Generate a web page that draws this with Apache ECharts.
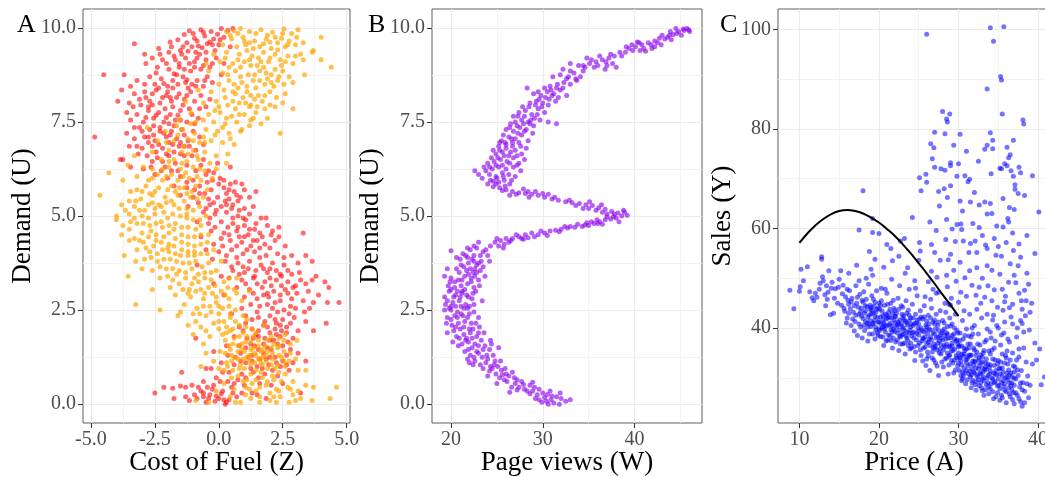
<!DOCTYPE html>
<html><head><meta charset="utf-8">
<script src="https://cdn.jsdelivr.net/npm/echarts@6/dist/echarts.min.js"></script>
<style>html,body{margin:0;padding:0;background:#fff}#c{width:1045px;height:477px}</style>
</head><body><div id="c"></div>
<script>
// Panel A: Cost of Fuel (Z) vs Demand (U), two groups
const fuelRed = [
[-0.7,9.95],[-0.3,9.9],[0.1,9.98],[0.35,9.93],[-1.0,9.85],[-1.35,9.82],[-0.55,9.78],[-0.2,9.7],[0.2,9.75],[-0.85,9.65],[-1.6,9.68],[-1.25,9.6],[-0.45,9.58],[0.0,9.55],[-1.9,9.62],[-2.35,9.45],[-3.3,9.58],[-1.05,9.5],[-0.65,9.47],[-0.15,9.4],[0.45,9.5],[-1.5,9.4],[-0.9,9.35],[-1.15,9.92],[-0.05,9.83],[0.55,9.98],
[-2.6,9.2],[-2.2,9.15],[-1.75,9.25],[-1.3,9.2],[-0.95,9.1],[-0.5,9.15],[-0.1,9.2],[0.2,9.05],[-2.85,9.05],[-2.4,8.95],[-1.95,8.9],[-1.55,8.95],[-1.1,8.85],[-0.7,8.9],[-0.35,8.95],[-3.7,8.75],[-4.5,8.75],[-2.7,8.7],[-2.25,8.65],[-1.8,8.6],[-1.4,8.7],[-0.85,8.6],[-0.45,8.7],[0.1,8.75],[-3.2,8.6],[-2.5,8.5],[-2.0,8.45],[-1.6,8.5],[-1.2,8.4],[-0.6,8.45],[-1.95,9.35],[-1.45,9.3],[-0.75,9.3],[-2.05,8.2],[-0.25,8.55],[-2.9,9.3],
[-3.8,8.35],[-3.3,8.25],[-2.9,8.3],[-2.45,8.35],[-2.0,8.3],[-1.55,8.25],[-1.1,8.3],[-0.7,8.2],[-3.95,8.05],[-3.5,8.0],[-3.05,7.95],[-2.7,8.05],[-2.3,8.0],[-1.85,8.05],[-1.4,7.95],[-0.95,8.05],[-0.5,7.9],[-3.6,7.75],[-3.2,7.7],[-2.75,7.8],[-2.35,7.75],[-1.9,7.7],[-1.5,7.8],[-1.05,7.7],[-3.45,7.55],[-2.95,7.5],[-2.55,7.6],[-2.15,7.5],[-1.7,7.55],[-1.25,7.5],[-0.8,7.6],[-2.6,7.95],[-2.1,7.85],[-1.65,8.15],[-2.85,8.15],[-3.3,7.35],[-4.85,7.1],[-0.35,8.1],[-1.3,8.55],[-2.3,7.25],
[-3.1,7.35],[-2.7,7.3],[-2.3,7.35],[-1.85,7.25],[-1.45,7.3],[-1.0,7.25],[-3.3,7.05],[-2.9,7.1],[-2.5,7.0],[-2.05,7.1],[-1.65,7.05],[-1.2,7.0],[-0.75,7.1],[-3.5,6.85],[-3.0,6.8],[-2.6,6.85],[-2.2,6.8],[-1.8,6.9],[-1.35,6.85],[-0.9,6.75],[-2.8,6.6],[-2.4,6.55],[-1.95,6.6],[-1.5,6.65],[-1.05,6.6],[-3.75,6.5],[-2.2,6.45],[-1.7,6.4],[-0.6,6.5],[-2.65,6.3],[-2.25,6.2],[-1.25,6.35],[-0.4,6.2],
[-2.5,6.1],[-2.0,6.0],[-1.5,6.05],[-1.0,5.95],[-0.5,6.1],[0.05,6.0],[0.45,6.3],[0.65,5.9],[-1.75,5.8],[-1.25,5.75],[-0.75,5.8],[-0.3,5.7],[0.2,5.75],[0.6,5.65],[1.0,5.7],[1.45,5.65],[-1.5,5.55],[-1.0,5.5],[-0.55,5.6],[-0.05,5.5],[0.4,5.45],[0.85,5.5],[-0.25,5.95],[0.3,5.6],[-0.8,5.35],[-0.35,5.3],[0.1,5.25],[0.55,5.3],[1.0,5.2],[-1.2,5.25],
[-0.6,5.1],[-0.15,5.05],[0.3,5.1],[0.75,5.0],[1.2,5.05],[1.65,4.95],[-0.85,4.85],[-0.4,4.8],[0.1,4.85],[0.55,4.8],[1.0,4.75],[1.45,4.8],[1.9,4.75],[2.35,4.7],[-0.3,4.6],[0.2,4.55],[0.7,4.6],[1.15,4.5],[1.6,4.55],[2.05,4.5],[-0.7,4.45],[0.45,4.35],[0.9,4.3],[1.35,4.35],[1.8,4.25],[2.6,4.2],[-0.2,4.25],[3.3,4.55],
[-0.5,4.1],[0.0,4.05],[0.5,4.1],[0.95,4.0],[1.4,4.05],[1.85,3.95],[2.3,4.0],[2.85,3.95],[-0.25,3.85],[0.25,3.8],[0.75,3.75],[1.2,3.8],[1.65,3.7],[2.1,3.75],[2.55,3.7],[3.1,3.75],[0.55,3.55],[1.0,3.5],[1.45,3.55],[1.9,3.5],[2.4,3.45],[3.65,3.8],[3.4,3.95],[-0.85,3.7],[0.1,3.4],
[0.4,3.35],[0.9,3.3],[1.35,3.35],[1.8,3.25],[2.25,3.3],[2.7,3.25],[3.2,3.3],[3.65,3.3],[4.15,3.25],[0.7,3.1],[1.2,3.05],[1.7,3.1],[2.15,3.0],[2.6,3.05],[3.05,2.95],[3.5,3.0],[4.3,3.1],[1.0,2.85],[1.5,2.8],[1.95,2.85],[2.4,2.75],[2.85,2.8],[3.3,2.75],[3.7,2.7],[4.7,2.7],[4.25,2.7],[2.05,3.15],[1.6,2.6],[2.1,2.55],[2.55,2.5],[3.0,2.55],[0.2,2.9],[-0.2,3.2],
[0.5,2.4],[1.05,2.35],[1.55,2.3],[2.0,2.35],[2.5,2.25],[2.95,2.3],[3.4,2.2],[4.2,2.15],[0.8,2.05],[1.3,2.0],[1.75,2.1],[2.2,2.0],[2.65,2.05],[3.1,1.95],[3.7,1.95],[0.6,1.8],[1.1,1.75],[1.55,1.8],[2.0,1.7],[2.4,1.8],[2.9,1.75],[-0.9,1.75],[0.3,1.55],[1.4,1.55],[1.9,1.5],[2.3,1.6],
[-0.2,1.4],[0.35,1.3],[0.85,1.35],[1.3,1.3],[1.75,1.35],[2.2,1.25],[2.65,1.3],[3.1,1.35],[0.1,1.1],[0.6,1.05],[1.05,1.1],[1.5,1.0],[1.95,1.05],[2.4,1.0],[2.9,1.1],[3.4,1.15],[-0.5,0.95],[0.4,0.85],[0.9,0.8],[1.35,0.85],[1.8,0.8],[2.3,0.75],[-1.45,0.85],[-0.1,0.7],
[-2.5,0.3],[-2.15,0.45],[-1.75,0.15],[-1.8,0.42],[-1.3,0.45],[-1.05,0.5],[-0.85,0.15],[-0.7,0.35],[-0.5,0.05],[-0.35,0.25],[-0.2,0.5],[0.0,0.15],[0.15,0.35],[0.3,0.05],[0.25,0.0],[0.5,0.45],[-0.6,0.6],[0.7,0.2],[1.0,0.5],[1.3,0.3],[1.6,0.55],[-0.95,0.25],[-0.45,0.45],[0.05,0.6],[2.05,0.5],[2.5,0.55],[3.2,0.3],[-1.5,0.48],
[-0.6,9.88],[-0.95,9.72],[-0.35,9.62],[0.05,9.68],[-1.4,9.5],[-0.8,9.52],[-1.7,9.15],[-1.15,9.05],[-0.6,9.0],[-2.05,9.05],[-2.45,8.8],[-1.75,8.78],[-1.25,8.62],[-0.95,8.95],[-2.15,8.52],[-2.6,8.25],[-2.2,8.15],[-1.8,8.4],[-1.35,8.1],[-0.9,8.45],[-3.1,8.1],[-2.45,7.68],[-2.05,7.62],[-1.6,7.68],[-1.15,7.85],[-2.85,7.62],[-3.0,7.25],[-2.55,7.15],[-2.15,7.2],[-1.75,7.4],[-1.35,7.15],[-2.75,6.95],[-2.35,6.9],[-1.95,6.95],[-1.55,6.85],[-3.15,6.65],[-2.6,6.45],[-1.85,6.2],[-2.95,6.25],[-1.35,6.6],[-2.05,6.65],
[-0.9,6.2],[-0.2,6.15],[-0.75,5.6],[0.0,5.85],[0.45,5.85],[-0.4,5.45],[0.25,5.4],[0.75,5.4],[-0.1,5.15],[0.5,5.2],[0.95,4.95],[1.4,4.65],[0.35,4.7],[0.8,4.45],[1.25,4.2],[1.7,4.45],[0.1,4.4],[2.2,4.35],[0.3,3.95],[0.7,3.9],[1.15,3.6],[1.6,3.9],[2.0,3.6],[2.7,3.55],[0.8,3.45],[1.5,3.2],[2.45,3.15],[2.9,3.1],[1.9,2.95],[2.4,2.9],[3.4,3.2],[2.8,2.6],[1.25,2.65],[3.9,2.9],[2.2,2.7],
[1.3,2.25],[1.8,2.2],[2.25,2.15],[2.75,2.4],[1.55,1.95],[2.0,1.9],[2.45,1.95],[1.35,1.75],[1.75,1.6],[2.15,1.7],[2.7,1.65],[1.05,1.5],[1.6,1.2],[2.0,1.25],[1.15,1.25],[2.5,1.15],[1.25,0.95],[1.7,0.95],[2.1,0.9],[0.75,0.65],[0.65,1.25],[2.75,0.9],
[-0.4,0.15],[-0.15,0.08],[0.1,0.28],[0.4,0.12],[-0.6,0.3],[-1.15,0.1],[0.6,0.55],[0.9,0.3],[1.5,0.25],[1.85,0.15],[-0.25,0.4],[0.35,0.6],
[-1.85,9.5],[-1.2,9.38],[-0.5,9.35],[-0.25,9.55],[-1.55,9.05],[-0.85,9.2],[-0.25,9.05],[-2.3,9.3],[-1.35,8.9],[-0.55,8.6],[-2.35,8.4],[-1.05,8.5],[-1.65,8.75],[-2.9,8.5],[-3.45,8.45],[-1.9,8.15],[-2.75,7.9],[-1.25,8.2],[-3.35,7.9],[-1.8,7.9],[-0.75,7.85],[-2.55,7.4],[-1.95,7.45],[-1.5,7.55],[-0.95,7.45],[-3.6,7.2],[-2.75,7.1],[-1.9,7.15],[-1.5,6.95],[-0.6,6.9],[-3.2,6.85],[-2.45,6.7],[-1.75,6.7],[-1.15,6.85],[-3.45,6.3],[-2.1,6.3],[-1.6,6.2],[-0.7,6.35],[-3.85,6.5],[-0.05,6.4],[-1.25,5.9],[-0.45,5.9],[0.2,5.95],[-0.95,5.7],[0.4,5.7],[0.9,5.85],[-0.2,5.35],[0.7,5.55],[1.2,5.5],[-0.5,5.2],[0.3,5.3],[0.8,5.15],[1.35,5.25],[-0.35,4.95],[0.55,4.95],[1.05,4.9],[1.85,4.95],[-0.15,4.7],[0.75,4.7],[1.2,4.65],[2.1,4.6],[0.4,4.5],[1.0,4.45],[1.5,4.35],[2.35,4.45],[0.15,4.2],[0.7,4.2],[1.1,4.1],[1.6,4.15],[2.0,4.15],[2.55,3.9],[0.5,3.65],[0.95,3.65],[1.4,3.4],[1.75,3.6],[2.25,3.55],[2.85,3.45],[3.15,3.5],[1.05,3.2],[2.0,3.35],[2.45,3.4],[3.0,3.15],[3.8,3.4],[1.35,2.95],[1.75,2.9],[2.7,2.95],[3.55,2.55],[2.3,2.45],[1.9,2.65],[3.35,2.45],[0.9,2.55],
[1.5,2.45],[2.2,2.25],[2.8,2.15],[1.05,2.15],[1.9,2.05],[2.4,2.1],[0.95,1.95],[1.45,1.85],[2.25,1.85],[2.65,1.9],[1.8,1.75],[1.25,1.6],[2.5,1.55],[1.55,1.45],[2.05,1.45],[2.8,1.45],[0.8,1.55],[1.3,1.15],[1.85,1.2],[2.25,1.1],[0.85,1.15],[2.65,1.05],[1.05,0.7],[1.55,0.7],[0.15,0.85],[-0.3,0.95],[-0.6,0.2],[-0.1,0.22],[0.2,0.12],[0.55,0.3],[-0.8,0.45],[-1.3,0.2]
];
const fuelOrange = [
[0.3,9.9],[0.75,9.85],[1.2,9.9],[1.65,9.95],[2.1,9.88],[2.55,9.97],[3.1,9.95],[0.5,9.7],[0.95,9.75],[1.4,9.65],[1.85,9.7],[2.3,9.6],[2.75,9.65],[3.3,9.6],[0.15,9.55],[1.05,9.55],[1.6,9.5],[2.05,9.45],[2.6,9.5],[3.0,9.55],[4.0,9.75],[3.7,9.4],[2.5,9.85],[0.85,9.98],
[-0.2,9.3],[0.3,9.35],[0.8,9.3],[1.3,9.25],[1.75,9.35],[2.2,9.3],[2.7,9.25],[3.2,9.3],[3.65,9.35],[0.05,9.1],[0.55,9.05],[1.0,9.1],[1.5,9.0],[1.95,9.1],[2.45,9.0],[2.9,9.05],[3.3,9.15],[4.0,9.15],[-0.4,8.85],[0.15,8.8],[0.65,8.85],[1.15,8.75],[1.6,8.85],[2.05,8.75],[2.5,8.85],[3.35,8.75],[4.4,8.95],[0.4,8.6],[0.9,8.55],[1.35,8.6],[1.8,8.5],[2.3,8.6],[0.0,8.5],[1.1,9.4],[2.9,8.55],[-0.5,9.05],
[-0.8,8.35],[-0.3,8.3],[0.2,8.35],[0.65,8.25],[1.1,8.3],[1.55,8.2],[2.0,8.3],[2.6,8.25],[-1.3,8.05],[-0.6,8.0],[-0.1,8.05],[0.35,7.95],[0.8,8.0],[1.25,7.95],[1.7,8.05],[2.2,7.9],[2.9,7.85],[-1.1,7.75],[-0.4,7.7],[0.05,7.75],[0.5,7.65],[1.0,7.7],[1.45,7.75],[1.9,7.6],[-0.9,7.5],[0.25,7.45],[0.7,7.5],[1.2,7.4],[1.65,7.45],[2.4,7.2],[-1.55,7.55],[1.4,8.1],
[-2.8,7.35],[-2.1,7.25],[-1.4,7.3],[-0.95,7.2],[-0.5,7.3],[-0.05,7.25],[0.4,7.2],[0.9,7.3],[-2.4,7.0],[-1.75,7.0],[-1.2,7.05],[-0.75,6.95],[-0.3,7.0],[0.15,6.95],[0.6,6.9],[-2.6,6.7],[-1.95,6.75],[-1.45,6.7],[-1.0,6.75],[-0.55,6.7],[-0.1,6.6],[0.35,6.65],[-3.3,6.6],[-2.25,6.5],[-1.25,6.45],[-0.8,6.5],[-0.35,6.4],[0.3,6.4],
[-3.55,6.35],[-2.95,6.3],[-1.95,6.3],[-1.5,6.25],[-1.0,6.3],[-0.55,6.2],[-0.1,6.25],[-4.3,6.15],[-3.2,6.05],[-2.6,6.0],[-2.05,6.05],[-1.6,5.95],[-1.15,6.0],[-0.7,5.95],[-0.25,6.0],[-3.75,5.95],[-2.85,5.8],[-2.35,5.75],[-1.85,5.8],[-1.35,5.75],[-0.9,5.8],[-0.45,5.7],[-3.45,5.65],[-2.6,5.55],[-2.1,5.5],[-1.6,5.55],[-1.1,5.5],[-4.65,5.55],[-3.05,5.45],[-0.6,5.5],
[-3.8,5.3],[-3.3,5.25],[-2.75,5.3],[-2.25,5.25],[-1.75,5.3],[-1.25,5.2],[-0.75,5.25],[-4.0,5.0],[-3.5,5.05],[-3.0,5.0],[-2.5,5.05],[-2.0,4.95],[-1.5,5.0],[-1.0,4.9],[-0.5,5.0],[-3.75,4.75],[-3.2,4.8],[-2.7,4.75],[-2.2,4.7],[-1.7,4.8],[-1.2,4.7],[-0.7,4.75],[-4.0,4.9],[-3.8,4.5],[-3.0,4.55],[-2.45,4.5],[-1.95,4.55],[-1.45,4.5],[-0.95,4.45],[-0.4,4.5],[-3.5,5.4],[-2.15,5.1],
[-3.5,4.35],[-2.95,4.3],[-2.45,4.35],[-1.95,4.25],[-1.45,4.3],[-0.95,4.2],[-0.45,4.3],[-3.2,4.1],[-2.7,4.05],[-2.2,4.1],[-1.7,4.0],[-1.2,4.05],[-0.7,4.0],[-0.2,4.1],[-3.7,3.95],[-2.9,3.85],[-2.4,3.8],[-1.9,3.85],[-1.4,3.75],[-0.9,3.8],[-0.4,3.75],[0.1,3.8],[-3.0,3.6],[-2.05,3.6],[-1.55,3.55],[-1.05,3.6],[-0.55,3.5],[-2.6,3.55],[-3.55,3.4],
[-2.3,3.35],[-1.8,3.3],[-1.3,3.35],[-0.8,3.25],[-0.3,3.3],[0.2,3.25],[0.7,3.35],[-2.6,3.05],[-1.9,3.1],[-1.4,3.05],[-0.9,3.0],[-0.4,3.1],[0.1,3.0],[0.6,3.05],[-1.7,2.9],[-1.1,2.85],[-0.6,2.8],[-0.1,2.85],[0.4,2.8],[0.9,2.75],[-3.25,2.65],[-1.35,2.65],[-0.35,2.6],[0.15,2.55],[0.65,2.5],[-0.85,2.55],[-2.3,2.5],[1.2,3.0],
[-1.6,2.35],[-1.0,2.4],[-0.5,2.35],[0.0,2.4],[0.45,2.3],[0.95,2.35],[-1.2,2.1],[-0.7,2.05],[-0.2,2.15],[0.3,2.05],[0.8,2.1],[1.3,2.0],[1.8,2.1],[-1.0,1.85],[-0.35,1.8],[0.15,1.85],[0.6,1.75],[1.1,1.8],[1.55,1.7],[2.05,1.8],[2.6,1.85],[-0.6,1.6],[0.4,1.55],[0.9,1.6],[1.35,1.5],[1.8,1.55],[2.3,1.5],[2.8,1.6],[3.05,1.7],
[-0.5,1.35],[0.05,1.4],[0.5,1.3],[1.0,1.4],[1.45,1.3],[1.9,1.4],[2.35,1.3],[2.8,1.35],[-0.2,1.15],[0.3,1.1],[0.75,1.2],[1.2,1.15],[1.65,1.1],[2.1,1.2],[2.55,1.15],[3.0,1.2],[-0.7,1.0],[0.0,0.95],[0.55,0.9],[1.0,0.95],[1.45,0.9],[1.9,0.95],[2.35,0.85],[3.4,0.9],[1.25,1.45],[0.85,1.05],[1.7,1.25],
[-0.9,0.1],[-0.4,0.05],[0.45,0.2],[0.85,0.05],[1.25,0.15],[1.6,0.05],[2.0,0.1],[2.4,0.2],[2.75,0.05],[3.2,0.15],[0.6,0.4],[1.05,0.45],[1.45,0.35],[1.85,0.5],[2.25,0.4],[2.7,0.45],[3.1,0.35],[3.7,0.45],[4.35,0.15],[4.6,0.45],[0.2,0.55],[1.1,0.65],[1.7,0.7],[2.15,0.65],[2.9,0.6],[3.65,0.1],[-0.1,0.35],
[0.6,9.92],[1.45,9.85],[1.9,9.8],[2.85,9.85],[1.2,9.6],[2.0,9.62],[2.45,9.72],[3.05,9.75],[0.7,9.5],[1.35,9.45],[2.3,9.42],[1.55,9.2],[2.0,9.2],[2.4,9.15],[1.25,9.0],[1.75,8.95],[2.2,8.9],[0.85,8.95],[0.4,8.95],[1.9,8.65],[1.45,8.4],[2.15,8.45],[0.55,8.3],[0.95,8.15],[1.2,7.9],[0.65,7.85],[1.8,7.85],[2.5,8.0],[0.85,7.25],[1.35,7.6],[-0.2,7.5],[0.45,7.05],[-0.6,7.1],[-1.1,7.45],[-1.6,7.15],[-2.05,6.95],[-1.2,6.65],[-0.75,6.25],[-1.75,6.5],[-2.2,6.25],[-1.3,6.15],[-1.85,6.1],[-2.4,6.1],[-1.05,5.65],[-1.55,5.75],[-2.0,5.7],[-2.7,5.6],[-3.2,5.7],[-1.35,5.4],[-1.85,5.4],[-2.35,5.3],[-2.9,5.15],[-3.3,4.95],[-2.75,4.95],[-2.25,4.85],[-1.75,4.65],[-1.25,4.95],[-0.9,4.65],[-3.5,4.65],[-3.1,4.35],[-2.65,4.6],[-2.15,4.45],[-1.7,4.4],[-1.2,4.45],[-0.7,4.5],[-2.85,4.15],[-2.4,4.0],[-1.95,4.05],[-1.45,4.1],[-0.95,3.95],[-0.45,4.0],[-2.15,3.85],[-1.65,3.8],[-1.15,3.75],[-0.65,3.65],[-3.25,3.8],[-2.3,3.65],[-1.8,3.6],[-1.3,3.5],[-0.8,3.45],[-0.1,3.55],[-2.0,3.4],[-1.55,3.2],[-1.05,3.2],[-0.55,3.35],[-0.15,3.15],[0.35,3.1],[-1.2,2.95],[-0.7,3.05],[-0.25,2.95],[0.25,2.9],[0.7,2.95],[-1.5,2.45],[-0.6,2.6],[-0.1,2.7],[0.4,2.6],[-0.3,2.45],[0.2,2.2],[0.65,2.2],[1.1,2.25],[-0.9,2.2],[-0.5,1.95],[0.0,2.0],[0.45,1.95],[0.95,1.9],[1.45,1.9],[0.25,1.7],[0.75,1.55],[1.25,1.65],[1.7,1.45],[2.15,1.6],[2.55,1.7],[0.25,1.35],[0.75,1.4],[1.2,1.3],[1.65,1.4],[2.1,1.35],[2.55,1.4],[0.5,1.15],[0.95,1.2],[1.4,1.1],[1.85,1.15],[2.3,1.05],[2.75,1.15],[0.2,0.9],[0.75,0.75],[1.25,0.8],[1.65,0.85],[2.1,0.75],[2.6,0.8],[3.1,0.9],[1.3,0.55],[1.6,0.45],[2.45,0.6],[2.0,0.3],[2.9,0.25],[1.05,0.25],[3.4,0.5],[2.25,0.05],[3.0,0.1],[0.65,0.05],
[0.45,9.8],[1.0,9.65],[1.75,9.58],[2.2,9.75],[2.7,9.55],[0.25,9.2],[0.75,9.15],[1.2,9.15],[1.65,9.1],[2.6,9.1],[3.0,9.25],[0.35,8.75],[0.85,8.7],[1.4,8.75],[1.85,8.8],[2.35,8.7],[2.75,8.7],[0.6,8.5],[1.1,8.45],[1.6,8.6],[2.05,8.55],[2.55,8.5],[0.25,8.15],[0.75,8.4],[1.25,8.2],[1.8,8.2],[2.25,8.15],[0.0,7.9],[0.55,8.05],[1.05,8.0],[1.5,7.9],[2.0,7.95],[0.3,7.6],[0.8,7.7],[1.25,7.55],[-0.15,7.8],[-0.6,7.55],[-0.15,7.15],[0.15,7.35],[-1.65,7.4],[-1.0,7.0],[-0.55,6.95],[-1.35,6.85],[-0.85,6.6],[-1.95,6.45],[-1.45,6.4],[-2.6,6.25],[-2.2,5.95],[-1.4,6.05],[-0.85,6.05],[-2.75,5.95],[-3.0,5.65],[-2.5,5.65],[-1.7,5.65],[-1.25,5.6],[-0.85,5.45],[-3.25,5.4],[-2.6,5.35],[-2.05,5.35],[-1.55,5.2],[-1.0,5.15],[-3.65,5.15],[-3.1,5.15],[-2.5,5.2],[-1.8,5.05],[-1.25,5.05],[-0.75,4.9],[-3.45,4.85],[-2.95,4.8],[-2.45,4.8],[-1.95,4.75],[-1.45,4.7],[-2.75,4.45],[-2.25,4.3],[-1.75,4.2],[-1.2,4.25],[-3.3,4.4],[-0.7,4.25],[-2.55,4.2],[-2.0,4.15],[-1.5,3.95],[-0.95,4.05],[-2.65,3.9],[-1.2,3.95],[-1.65,3.45],[-0.3,3.5],[-0.95,3.35],[-1.15,3.05],[0.4,3.35],[-0.55,2.95],[0.0,2.6],[0.45,2.4],[-0.75,2.4],[0.0,2.2],[0.55,2.0],[1.05,2.05],[0.3,1.9],[0.8,1.8],[1.35,1.8],[1.9,1.7],[0.55,1.6],[1.05,1.65],[1.55,1.55],[2.05,1.5],[2.35,1.75],[0.45,1.45],[0.9,1.45],[1.4,1.35],[1.85,1.3],[2.35,1.55],[0.6,1.25],[1.1,1.25],[1.55,1.2],[2.05,1.05],[2.45,1.25],[0.35,1.0],[0.8,0.95],[1.25,1.05],[1.7,1.05],[2.2,0.95],[2.6,1.0],[0.5,0.7],[0.95,0.6],[1.45,0.65],[1.9,0.6],[2.35,0.35],[2.8,0.4],[1.6,0.2],[2.15,0.2],[1.2,0.4]
];
// Panel B: Page views (W) vs Demand (U)
const pageViews = [
[29.9,0.05],[30.6,0.0],[31.2,0.03],[31.8,0.0],[32.5,0.08],[33.0,0.12],[30.2,0.18],[30.9,0.12],[31.5,0.2],[29.4,0.25],[30.0,0.3],[30.8,0.35],[28.6,0.28],[29.2,0.15],[31.9,0.3],[32.0,0.15],
[27.4,0.45],[28.0,0.4],[28.6,0.5],[27.0,0.55],[27.7,0.6],[28.3,0.35],[26.6,0.45],[26.1,0.6],[29.1,0.45],[26.4,0.32],[28.9,0.58],
[25.3,0.7],[25.8,0.65],[26.3,0.75],[24.9,0.8],[25.5,0.9],[24.5,0.95],[25.1,1.0],[26.7,0.85],[24.2,0.88],[25.9,0.95],[25.0,0.55],[27.2,0.65],
[23.2,1.05],[23.8,1.1],[24.3,1.0],[22.6,1.15],[23.4,1.25],[24.0,1.2],[24.6,1.3],[22.1,1.3],[22.8,1.4],[23.5,1.45],[24.2,1.45],[21.5,1.4],[22.3,1.5],[23.0,1.35],[24.8,1.15],[21.8,1.2],[25.2,1.5],[23.7,1.55],[22.4,1.05],
[21.2,1.6],[21.9,1.65],[22.6,1.6],[23.3,1.7],[20.6,1.8],[21.4,1.85],[22.1,1.9],[22.8,1.8],[23.6,1.9],[20.3,1.95],[21.0,2.0],[21.7,1.75],[22.4,2.0],[19.6,1.9],[23.1,2.05],[20.8,1.55],[24.3,1.7],
[20.1,2.1],[20.8,2.15],[21.5,2.2],[22.2,2.15],[19.6,2.3],[20.4,2.35],[21.1,2.4],[21.8,2.3],[22.5,2.45],[19.3,2.5],[20.0,2.5],[20.7,2.45],[21.4,2.55],[23.0,2.3],[22.0,2.6],
[19.4,2.65],[20.2,2.7],[20.9,2.75],[21.6,2.65],[22.3,2.8],[19.3,2.85],[20.5,2.9],[21.2,2.95],[21.9,2.85],[22.7,3.0],[19.8,3.0],[23.4,2.75],[20.0,2.6],
[19.7,3.15],[20.4,3.1],[21.1,3.15],[21.8,3.2],[22.5,3.1],[20.0,3.35],[20.8,3.3],[21.5,3.4],[22.2,3.35],[23.0,3.3],[19.3,3.4],[23.7,3.4],[21.2,3.0],[22.8,3.5],[19.6,3.6],
[20.6,3.6],[21.4,3.65],[22.1,3.6],[22.8,3.7],[23.5,3.65],[24.2,3.8],[21.0,3.85],[21.8,3.9],[22.5,3.8],[23.2,3.95],[24.0,3.95],[21.3,4.0],[22.1,4.1],[22.8,4.15],[23.5,4.05],[20.0,4.08],[24.3,4.2],[22.5,3.95],[23.0,4.3],
[24.8,4.3],[25.4,4.35],[26.0,4.4],[26.7,4.4],[27.4,4.45],[28.1,4.5],[28.8,4.55],[29.5,4.5],[30.2,4.55],[25.2,4.2],[26.3,4.3],[27.9,4.38],[29.1,4.45],[30.8,4.6],[31.4,4.62],[25.7,4.15],
[32.0,4.65],[32.7,4.68],[33.5,4.7],[34.3,4.72],[35.0,4.75],[35.6,4.8],[36.2,4.85],[36.8,4.9],[37.4,4.92],[38.0,4.95],[38.6,5.0],[39.2,5.02],[34.8,4.82],[35.9,4.9],[37.0,4.98],[33.0,4.72],[36.5,4.78],[38.3,4.85],
[38.2,5.08],[37.5,5.12],[36.8,5.18],[36.1,5.22],[35.4,5.28],[34.7,5.3],[34.0,5.33],[33.2,5.35],[32.5,5.38],[38.8,5.15],[37.0,5.05],[35.8,5.15],[34.4,5.2],[36.4,5.3],[35.1,5.38],
[31.7,5.42],[31.0,5.45],[30.2,5.5],[29.5,5.55],[28.8,5.58],[28.1,5.6],[27.4,5.62],[26.7,5.65],[26.0,5.7],[25.3,5.75],[24.6,5.78],[30.6,5.58],[29.2,5.65],[27.9,5.72],[26.4,5.55],[28.5,5.5],
[24.0,5.85],[24.6,5.92],[25.2,5.9],[25.8,5.95],[26.4,5.85],[23.4,6.0],[24.2,6.1],[24.9,6.05],[25.6,6.15],[26.3,6.1],[27.0,6.05],[22.6,6.2],[23.8,6.2],[24.5,6.25],[25.2,6.3],[26.0,6.25],[26.8,6.3],[27.6,6.2],[25.9,5.8],[24.0,6.4],
[24.7,6.45],[25.4,6.5],[26.1,6.45],[26.8,6.55],[27.4,6.4],[24.9,6.65],[25.6,6.7],[26.3,6.6],[27.0,6.75],[27.7,6.65],[25.2,6.85],[26.0,6.9],[26.7,6.85],[27.4,6.95],[28.2,6.8],[28.0,6.5],[24.4,6.55],
[25.5,7.0],[26.3,7.1],[27.0,7.05],[27.7,7.15],[28.4,7.0],[26.0,7.3],[26.8,7.25],[27.5,7.35],[28.2,7.3],[28.9,7.2],[25.9,6.95],[29.0,7.4],[26.5,7.45],
[27.0,7.5],[27.7,7.55],[28.4,7.5],[29.1,7.6],[29.7,7.55],[27.4,7.75],[28.1,7.8],[28.8,7.7],[29.5,7.85],[30.2,7.75],[26.8,7.65],[30.6,7.5],[31.5,7.45],
[28.6,8.0],[29.3,8.05],[30.0,8.0],[30.7,8.1],[31.4,8.05],[29.0,8.25],[29.8,8.2],[30.5,8.3],[31.2,8.25],[31.9,8.35],[32.6,8.2],[28.3,8.4],[30.2,8.4],
[30.8,8.45],[31.6,8.5],[32.3,8.55],[33.0,8.5],[33.7,8.6],[31.1,8.7],[31.9,8.75],[32.6,8.65],[33.4,8.8],[34.1,8.7],[32.2,8.9],[33.0,8.85],[34.6,8.95],[33.0,9.05],
[34.4,9.0],[35.1,9.05],[35.8,9.1],[36.5,9.15],[37.2,9.2],[34.8,9.2],[35.6,8.95],[36.2,9.25],[37.0,9.0],[37.8,9.25],[38.4,9.35],[38.0,8.95],[39.0,9.35],[36.8,8.9],
[39.4,9.45],[40.1,9.5],[40.8,9.55],[41.5,9.6],[42.2,9.65],[39.8,9.4],[40.6,9.4],[41.9,9.45],[42.9,9.55],[43.3,9.7],[40.3,9.62],[41.2,9.38],
[43.6,9.75],[44.2,9.82],[44.8,9.9],[45.4,9.93],[46.0,9.9],[43.9,9.9],[44.5,9.98],[45.1,9.8],[42.7,9.72],[45.7,9.98],[44.0,9.68],
[30.4,0.08],[31.0,0.22],[29.6,0.12],[30.5,0.26],[28.9,0.35],[29.6,0.4],[27.9,0.52],[27.2,0.38],[26.9,0.7],[26.0,0.8],[25.6,0.78],[24.7,1.05],[25.4,1.15],[23.9,1.3],[24.4,1.6],[23.0,1.55],[22.5,1.25],[21.9,1.45],[21.6,1.7],[22.3,1.75],[23.0,1.9],[20.9,1.75],[21.4,2.05],[22.0,2.0],[22.7,2.15],[20.5,2.05],[20.0,2.25],[20.7,2.3],[21.3,2.35],[22.0,2.4],[19.8,2.55],[20.5,2.6],[21.1,2.6],[21.8,2.55],[22.5,2.65],[19.6,2.75],[20.3,2.85],[21.0,2.85],[21.7,2.9],[22.4,2.95],[20.0,3.05],[20.7,3.0],[21.5,3.05],[22.2,3.25],[23.1,3.15],[20.4,3.25],[21.2,3.3],[21.9,3.45],[22.6,3.4],[20.9,3.5],[21.7,3.55],[22.4,3.5],[23.2,3.55],[21.1,3.7],[21.9,3.75],[22.6,3.6],[23.3,3.8],[21.6,3.95],[22.3,3.85],[23.0,3.75],[23.8,4.1],[22.5,4.2],[21.8,4.15],[20.6,3.9],[19.9,3.25],[19.5,2.15],[20.2,1.65],[22.0,1.1],[23.5,0.95],[24.0,0.75],
[25.0,4.4],[25.8,4.25],[26.5,4.35],[27.1,4.5],[27.7,4.4],[28.4,4.42],[29.8,4.6],[30.5,4.48],[31.8,4.58],[32.4,4.72],[33.8,4.78],[34.6,4.76],[35.3,4.85],[36.0,4.8],[37.7,4.98],[38.9,5.1],[37.8,5.05],[36.5,5.1],[35.0,5.2],[33.6,5.28],[32.9,5.42],[31.3,5.5],[30.0,5.6],[28.4,5.65],[27.1,5.58],[25.6,5.68],[24.9,5.85],
[24.3,5.95],[25.0,6.0],[25.7,6.05],[26.6,5.95],[23.0,6.1],[23.6,6.3],[24.2,6.3],[24.9,6.35],[25.6,6.35],[26.4,6.4],[27.2,6.35],[25.1,6.55],[25.8,6.6],[26.5,6.7],[27.2,6.6],[24.6,6.75],[25.3,6.75],[26.0,6.8],[26.7,6.95],[27.6,6.85],[25.3,6.95],[26.6,7.05],[27.3,7.2],[28.0,7.25],[25.7,7.15],[26.4,7.35],[27.2,7.4],[27.9,7.45],[28.6,7.45],[27.3,7.65],[28.0,7.65],[28.7,7.55],[29.4,7.7],[27.8,7.9],[28.5,7.9],[29.2,7.95],[29.9,7.9],[30.6,7.95],[29.6,8.1],[30.3,8.15],[31.0,8.2],[31.7,8.15],[30.9,8.35],[31.5,8.4],[32.2,8.4],[29.5,8.3],
[32.8,8.7],[33.6,8.65],[34.4,8.85],[33.9,9.0],[35.3,9.15],[36.0,9.0],[36.9,9.1],[37.6,9.05],[38.6,9.25],[39.1,9.5],[39.7,9.55],[40.5,9.6],[41.0,9.45],[41.8,9.55],[42.5,9.6],[43.0,9.8],[43.8,9.8],[44.6,9.85],[45.3,9.97],[45.9,9.95],[42.2,9.5],[37.4,9.3]
];
// Panel C: Price (A) vs Sales (Y)
const priceSales = [
[8.8,47.6],[9.3,43.9],[10.0,47.4],[10.1,48.3],[10.2,51.8],[11.0,52.3],[11.8,45.5],[12.2,46.2],[12.5,47.8],[12.8,53.8],[12.8,54.3],[12.9,50.3],[13.0,49.5],[13.2,46.7],[13.4,48.5],[13.5,45.8],[13.7,51.5],[13.9,42.7],[14.1,49.2],[14.3,43.0],[14.5,47.9],[14.8,45.0],[15.0,49.8],[15.2,51.5],[15.3,44.6],[15.5,48.6],[15.7,43.4],[15.8,46.3],[14.0,48.0],[12.0,47.0],[13.3,44.5],[11.6,46.1],
[16.0,42.0],[16.2,44.8],[16.3,47.5],[16.5,40.5],[16.6,46.0],[16.8,43.2],[17.0,41.3],[17.1,48.5],[17.2,45.0],[17.3,38.5],[17.5,42.8],[17.6,46.8],[17.7,40.2],[17.8,44.0],[18.0,41.9],[18.1,47.3],[18.2,39.5],[18.3,43.5],[18.4,45.8],[18.5,41.0],[18.6,37.4],[18.7,48.8],[18.8,42.6],[18.9,44.6],[19.0,40.3],[19.1,46.5],[19.2,38.8],[19.3,43.0],[19.4,41.5],[19.5,45.2],[19.6,39.6],[19.7,47.5],[19.8,42.1],[19.9,44.0],[16.9,39.4],[17.4,44.2],[18.0,45.2],[18.7,40.8],[19.0,42.9],[19.5,37.8],[16.1,45.6],[15.9,41.0],[17.9,38.0],[18.4,50.0],[19.2,50.6],[19.0,51.8],[17.5,49.5],[16.4,43.9],[18.9,43.8],[19.4,44.4],
[20.0,41.2],[20.1,43.8],[20.2,38.3],[20.3,45.5],[20.4,40.0],[20.5,42.5],[20.6,36.5],[20.7,44.6],[20.8,39.2],[20.9,41.8],[21.0,47.0],[21.1,37.6],[21.2,43.2],[21.3,40.6],[21.4,38.5],[21.5,45.0],[21.6,42.0],[21.7,36.0],[21.8,39.8],[21.9,44.0],[22.0,41.0],[22.1,37.2],[22.2,43.0],[22.3,39.0],[22.4,46.0],[22.5,35.5],[22.6,41.6],[22.7,38.2],[22.8,44.5],[22.9,40.3],[23.0,36.8],[23.1,42.5],[23.2,39.5],[23.3,34.8],[23.4,45.5],[23.5,41.0],[23.6,37.5],[23.7,43.6],[23.8,39.0],[23.9,35.8],[24.0,42.0],[24.1,38.4],[24.2,44.8],[24.3,40.5],[24.4,36.3],[24.5,33.5],[24.6,42.8],[24.7,38.9],[24.8,46.5],[24.9,40.0],[20.5,40.2],[21.0,42.6],[21.5,39.6],[22.0,43.5],[22.5,40.8],[23.0,38.8],[23.5,43.0],[24.0,37.0],[20.8,47.8],[21.6,49.8],[22.6,48.5],[23.8,47.8],[24.5,49.5],[23.3,51.0],[20.3,48.0],
[25.0,40.8],[25.1,37.0],[25.2,43.5],[25.3,34.5],[25.4,39.5],[25.5,41.8],[25.6,36.0],[25.7,44.5],[25.8,38.2],[25.9,32.5],[26.0,40.2],[26.1,35.2],[26.2,42.6],[26.3,37.8],[26.4,31.5],[26.5,39.6],[26.6,44.0],[26.7,34.0],[26.8,41.2],[26.9,36.8],[27.0,38.8],[27.1,33.0],[27.2,42.8],[27.3,35.6],[27.4,40.5],[27.5,30.5],[27.6,37.4],[27.7,43.5],[27.8,34.8],[27.9,39.0],[28.0,41.5],[28.1,32.2],[28.2,36.5],[28.3,38.5],[28.4,43.2],[28.5,34.0],[28.6,40.3],[28.7,30.8],[28.8,36.2],[28.9,42.0],[29.0,38.0],[29.1,33.5],[29.2,40.8],[29.3,35.5],[29.4,31.0],[29.5,37.8],[29.6,42.8],[29.7,34.5],[29.8,39.5],[29.9,36.8],[25.5,38.0],[26.3,40.8],[27.0,36.0],[27.8,38.0],[28.5,36.8],[29.2,38.5],[26.0,33.8],[27.5,39.5],[28.8,34.4],[29.5,40.0],[25.8,46.3],[27.2,47.0],[26.5,45.8],[28.3,45.0],[29.0,44.6],
[30.0,33.0],[30.1,36.5],[30.2,39.0],[30.3,30.5],[30.4,34.8],[30.5,41.5],[30.6,37.8],[30.7,32.0],[30.8,35.5],[30.9,28.8],[31.0,39.8],[31.1,33.8],[31.2,36.8],[31.3,30.8],[31.4,42.8],[31.5,34.5],[31.6,38.2],[31.7,31.8],[31.8,29.5],[31.9,36.0],[32.0,40.5],[32.1,33.2],[32.2,27.5],[32.3,35.2],[32.4,30.2],[32.5,38.8],[32.6,32.5],[32.7,36.6],[32.8,29.0],[32.9,42.0],[33.0,34.2],[33.1,31.2],[33.2,26.5],[33.3,37.2],[33.4,33.0],[33.5,28.6],[33.6,39.8],[33.7,30.5],[33.8,35.4],[33.9,32.2],[34.0,27.8],[34.1,38.0],[34.2,30.0],[34.3,33.8],[34.4,25.8],[34.5,36.0],[34.6,29.2],[34.7,31.5],[34.8,40.5],[34.9,27.0],[30.5,31.2],[31.0,31.5],[31.5,32.8],[32.0,31.0],[32.5,33.6],[33.0,29.8],[33.5,31.8],[34.0,34.8],[30.2,34.0],[31.2,34.2],[32.2,34.5],[33.2,35.5],[30.8,38.5],[31.8,38.8],[32.8,30.8],[33.8,28.2],[34.5,32.5],[30.4,29.4],[31.6,28.0],[32.6,28.4],[30.7,43.5],[32.3,43.8],[33.6,42.8],[31.7,40.0],[30.0,36.2],[34.3,41.6],[33.0,27.4],[31.3,36.0],
[35.0,33.5],[35.1,28.5],[35.2,30.8],[35.3,36.6],[35.4,26.5],[35.5,32.0],[35.6,29.4],[35.7,39.0],[35.8,27.5],[35.9,34.5],[36.0,25.0],[36.1,30.2],[36.2,32.8],[36.3,28.0],[36.4,37.2],[36.5,26.2],[36.6,31.0],[36.7,29.0],[36.8,35.0],[36.9,27.0],[37.0,24.8],[37.1,32.2],[37.2,29.8],[37.3,38.2],[37.4,26.5],[37.5,30.5],[37.6,34.2],[37.7,28.2],[37.8,25.2],[37.9,31.5],[38.0,24.3],[38.1,29.0],[38.2,36.0],[38.3,27.3],[38.5,33.2],[38.7,30.4],[39.0,28.5],[39.3,32.8],[40.4,28.6],[40.8,30.2],[35.5,34.8],[36.0,34.0],[36.4,30.6],[37.0,28.5],[35.2,25.5],[36.8,40.8],[38.2,39.2],[37.6,35.8],[38.8,26.0],[35.8,41.2],[37.4,40.0],[38.4,42.5],[39.6,37.0],
[26.0,99.0],[34.0,100.3],[35.7,100.5],[34.4,97.6],[35.3,90.5],[35.4,89.8],[33.6,88.0],[35.5,83.0],[28.0,83.5],[28.9,83.0],[28.5,82.0],[28.6,81.4],[38.1,81.8],[38.2,81.0],[27.0,79.3],[28.3,79.0],[30.2,78.9],[34.0,79.2],[34.3,77.7],[33.6,76.7],[33.3,75.9],[36.1,76.3],[36.9,77.7],[34.3,76.0],[26.5,77.0],[26.9,76.2],[29.4,76.7],[36.5,74.8],[36.3,74.2],[35.8,73.0],[36.1,72.6],[37.6,72.3],[37.8,71.2],[32.5,73.5],[29.0,73.2],[30.0,73.0],[29.0,72.6],[27.0,72.3],[27.8,72.0],[28.3,71.7],[35.2,72.1],[35.4,72.0],[34.1,71.0],[36.6,71.6],[36.9,70.5],[39.3,70.6],[30.8,70.6],[31.4,69.9],[25.1,70.2],[25.9,70.9],[26.0,69.3],[27.5,67.4],[29.0,68.6],[31.2,69.4],[37.1,68.8],[37.1,67.9],[37.5,67.0],[38.3,66.6],[25.3,67.6],[31.5,65.3],[32.6,64.7],[33.3,65.3],[34.0,65.0],[30.2,65.5],[28.5,61.8],[29.8,60.8],[30.3,60.9],[30.4,59.8],[29.2,59.9],[33.6,62.9],[34.2,63.0],[34.8,60.5],[35.6,60.3],[36.2,62.0],[36.3,61.3],[36.8,59.1],[40.1,63.3],[24.2,62.2],[18.0,67.6],[17.5,59.7],[19.2,59.2],[19.2,62.0],[20.0,59.0],[22.7,57.5],[25.1,57.2],[25.2,55.5],[26.6,56.8],[28.4,57.8],[29.6,57.4],[30.6,57.5],[31.5,57.0],[32.1,57.5],[31.3,55.2],[32.3,55.2],[33.4,56.7],[33.6,56.0],[34.7,54.6],[35.4,54.4],[36.5,52.9],[37.5,52.5],[37.6,56.9],[21.7,53.5],[21.5,56.0],[23.6,52.1],[25.0,53.6],[26.6,51.4],[27.7,53.6],[28.7,53.7],[29.4,51.6],[30.2,53.2],[32.3,52.1],[33.6,52.5],[34.2,51.6],[30.8,50.1],[28.5,50.6],[27.3,50.2],[28.6,48.3],[29.7,49.4],[31.7,48.6],[33.7,48.5],[34.5,47.7],[35.5,47.8],[36.3,49.2],[37.2,49.1],[38.3,47.6],[37.9,45.5],[38.5,45.5],[35.8,45.3],[36.4,44.1],[33.3,46.2],[32.2,46.6],[31.0,46.4],[29.1,46.0],[27.5,47.2],[28.8,44.8],[39.0,43.2],[37.8,41.5],[38.0,40.9],
[10.5,49.5],[11.3,47.3],[12.6,49.0],[13.6,47.2],[14.4,46.0],[14.9,48.2],[15.4,46.9],[15.6,44.0],[16.0,47.8],[16.2,43.0],[16.5,45.3],[16.7,41.8],[16.9,44.5],[17.1,42.6],[17.3,46.2],[17.5,40.8],[17.7,43.3],[17.9,45.6],[18.1,40.5],[18.2,43.0],[18.3,41.3],[18.5,44.3],[18.6,42.2],[18.8,38.8],[18.9,41.5],[19.1,43.6],[19.2,40.8],[19.3,45.8],[19.5,42.3],[19.6,40.2],[19.7,43.8],[19.8,39.0],[19.9,41.2],[20.0,45.0],[20.1,39.5],[20.2,42.2],[20.3,40.8],[20.4,43.4],[20.5,38.2],[20.6,41.0],[20.7,39.8],[20.8,42.8],[20.9,37.4],[21.0,40.4],[21.1,44.8],[21.2,38.6],[21.3,42.2],[21.4,41.0],[21.5,37.5],[21.6,40.4],[21.7,43.0],[21.8,38.0],[21.9,41.6],[22.0,39.4],[22.1,42.3],[22.2,40.2],[22.3,37.6],[22.4,41.2],[22.5,43.8],[22.6,39.6],[22.7,36.8],[22.8,40.8],[22.9,38.6],[23.0,42.0],[23.1,40.0],[23.2,37.0],[23.3,41.3],[23.4,38.4],[23.5,39.2],[23.6,40.6],[23.7,36.5],[23.8,41.5],[23.9,39.6],[24.0,40.2],[24.1,36.0],[24.2,39.0],[24.3,42.0],[24.4,38.0],[24.5,40.9],[24.6,35.2],[24.7,37.6],[24.8,41.6],[24.9,36.5],
[25.0,38.6],[25.1,41.8],[25.2,35.6],[25.3,40.0],[25.4,37.4],[25.5,33.4],[25.6,39.2],[25.7,42.2],[25.8,36.2],[25.9,40.6],[26.0,37.0],[26.1,38.9],[26.2,34.4],[26.3,39.8],[26.4,36.5],[26.5,42.0],[26.6,37.6],[26.7,35.2],[26.8,39.0],[26.9,33.6],[27.0,40.8],[27.1,36.4],[27.2,38.0],[27.3,32.4],[27.4,37.0],[27.5,41.2],[27.6,35.0],[27.7,38.6],[27.8,36.6],[27.9,33.2],[28.0,39.4],[28.1,35.6],[28.2,41.0],[28.3,33.8],[28.4,37.8],[28.5,39.0],[28.6,35.0],[28.7,38.0],[28.8,32.6],[28.9,36.4],[29.0,40.4],[29.1,35.4],[29.2,37.0],[29.3,33.0],[29.4,38.8],[29.5,35.8],[29.6,31.6],[29.7,37.4],[29.8,34.0],[29.9,39.0],
[30.0,35.0],[30.1,31.5],[30.2,37.5],[30.3,33.4],[30.4,36.4],[30.5,29.8],[30.6,34.4],[30.7,36.0],[30.8,31.0],[30.9,33.6],[31.0,35.8],[31.1,29.6],[31.2,32.4],[31.3,38.4],[31.4,31.4],[31.5,30.2],[31.6,34.6],[31.7,29.0],[31.8,33.4],[31.9,31.2],[32.0,35.6],[32.1,28.6],[32.2,32.0],[32.3,30.6],[32.4,36.8],[32.5,29.6],[32.6,34.0],[32.7,31.0],[32.8,33.0],[32.9,28.0],[33.0,32.0],[33.1,35.0],[33.2,29.4],[33.3,31.6],[33.4,27.6],[33.5,33.8],[33.6,30.0],[33.7,32.8],[33.8,26.8],[33.9,30.8],[34.0,32.6],[34.1,28.8],[34.2,35.6],[34.3,27.2],[34.4,31.0],[34.5,29.0],[34.6,33.6],[34.7,26.2],[34.8,30.6],[34.9,32.8],
[35.0,29.8],[35.1,31.8],[35.2,27.8],[35.3,33.2],[35.4,29.0],[35.5,26.0],[35.6,31.2],[35.7,28.2],[35.8,33.0],[35.9,30.0],[36.0,27.2],[36.1,35.4],[36.2,29.6],[36.3,31.6],[36.4,26.8],[36.5,33.6],[36.6,28.4],[36.7,30.2],[36.8,25.6],[36.9,32.4],[37.0,30.0],[37.2,27.0],[37.4,31.6],[37.6,25.8],[37.8,29.0],[38.0,27.6],[38.3,25.0],[38.6,28.8],[37.3,33.6],[36.2,37.8],[35.4,38.6],[34.6,37.4],[33.5,37.6],[34.0,39.2],[34.4,42.6],[35.0,40.0],[36.6,42.2],[35.6,43.6],
[26.7,74.0],[27.6,64.5],[28.2,68.0],[30.5,63.5],[31.8,61.0],[32.6,60.2],[33.0,58.6],[34.5,58.0],[35.0,56.4],[36.0,57.2],[36.9,55.6],[37.8,54.2],[38.6,51.0],[37.0,50.6],[35.2,50.8],[33.0,50.0],[31.4,51.5],[29.0,54.8],[27.0,55.2],[26.2,49.3],[24.6,48.0],[26.8,47.8],[30.3,47.2],[32.6,48.2],[34.2,45.5],[35.9,46.4],[37.6,47.0],[38.8,48.8],[36.8,44.8],[34.9,44.2],[32.8,45.0],[30.0,45.2],[39.2,45.0],[38.0,43.8],[38.9,39.6],[39.8,33.6],[40.2,35.8],[37.0,63.8],[38.6,58.6],[39.6,55.0],[31.0,75.5],[32.0,67.2],[35.6,66.0],[36.4,64.2],[29.8,70.5],[28.6,66.2],[27.2,59.6],[26.4,61.3],[23.2,58.0],[21.0,56.8],[22.5,54.4],[18.8,55.4],[20.6,52.2],[19.5,53.8],[17.2,52.6],[16.2,51.0],
[17.8,42.4],[18.3,44.5],[18.6,40.2],[19.0,44.2],[19.3,41.0],[19.6,43.2],[19.9,38.5],[20.2,44.6],[20.5,41.6],[20.8,40.6],[21.1,42.0],[21.4,43.8],[21.7,39.2],[22.0,42.4],[22.3,40.6],[22.6,38.4],[22.9,42.8],[23.2,41.6],[23.5,38.0],[23.8,42.6],[24.1,40.8],[24.4,39.2],[24.7,41.0],[25.0,39.4],[25.3,42.2],[25.6,37.8],[25.9,39.6],[26.2,37.2],[26.5,38.2],[26.8,36.0],[27.1,39.8],[27.4,38.2],[27.7,35.8],[28.0,37.6],[28.3,36.2],[28.6,38.8],[28.9,34.6],[29.2,36.4],[29.5,33.6],[29.8,37.6],[30.1,34.2],[30.4,32.6],[30.7,34.8],[31.0,33.0],[31.3,34.6],[31.6,30.6],[31.9,32.6],[32.2,29.2],[32.5,31.8],[32.8,34.6],[33.1,30.2],[33.4,32.2],[33.7,29.0],[34.0,31.4],[34.3,29.8],[34.6,30.8],[34.9,28.4],[35.2,32.0],[35.5,30.4],[35.8,28.8],[36.1,31.0],[36.4,29.0],[36.7,27.6],[37.0,31.2],[31.5,36.8],[32.0,33.4],[33.0,33.2],[30.6,30.4],[29.9,32.4],[28.2,39.8],[27.0,41.6],[26.0,41.4],[23.0,44.2],[21.8,45.6],[20.0,39.8]
];
// Fitted curve in panel C
const fitCurve = [[10,57.1],[11,59.0],[12,60.6],[13,61.9],[14,62.9],[15,63.5],[16,63.7],[17,63.5],[18,63.0],[19,62.2],[20,61.2],[21,59.9],[22,58.5],[23,56.8],[24,55.0],[25,53.0],[26,51.0],[27,48.9],[28,46.7],[29,44.6],[30,42.4]];

const ticksAX = [-5, -2.5, 0, 2.5, 5], minorAX = [-3.75, -1.25, 1.25, 3.75];
const ticksU = [0, 2.5, 5, 7.5, 10], minorU = [1.25, 3.75, 6.25, 8.75];
const ticksBX = [20, 30, 40], minorBX = [25, 35, 45];
const ticksCX = [10, 20, 30, 40], minorCX = [15, 25, 35];
const ticksCY = [40, 60, 80, 100], minorCY = [30, 50, 70, 90];

const FONT = 'Liberation Serif';
const labelStyle = {fontFamily: FONT, fontSize: 20, color: '#4D4D4D'};
const nameStyle = {fontFamily: FONT, fontSize: 27, color: '#000'};

function mainAxis(grid, min, max, ticks, fmt, name, gap, isY) {
  return {
    type: 'value', gridIndex: grid, min: min, max: max,
    position: isY ? 'left' : 'bottom',
    name: name, nameLocation: 'middle', nameGap: gap, nameTextStyle: nameStyle,
    nameMoveOverlap: false,
    axisLine: {show: false, onZero: false},
    axisTick: {show: true, length: 5, customValues: ticks, lineStyle: {color: '#333', width: 1}},
    axisLabel: Object.assign({show: true, customValues: ticks, margin: 7, formatter: fmt}, labelStyle),
    splitLine: {show: true, lineStyle: {color: '#EBEBEB', width: 1.2}}
  };
}
function minorAxis(grid, min, max, ticks, isY) {
  return {
    type: 'value', gridIndex: grid, min: min, max: max,
    position: isY ? 'left' : 'bottom',
    axisLine: {show: false, onZero: false},
    axisTick: {show: false, customValues: ticks},
    axisLabel: {show: false, customValues: ticks},
    splitLine: {show: true, lineStyle: {color: '#F3F3F3', width: 1}}
  };
}
const f1 = v => v.toFixed(1), f0 = v => String(Math.round(v));

const xAxis = [
  mainAxis(0, -5.31, 5.13, ticksAX, f1, 'Cost of Fuel (Z)', 26, false), minorAxis(0, -5.31, 5.13, minorAX, false),
  mainAxis(1, 17.93, 47.35, ticksBX, f0, 'Page views (W)', 26, false), minorAxis(1, 17.93, 47.35, minorBX, false),
  mainAxis(2, 7.31, 41.5, ticksCX, f0, 'Price (A)', 26, false), minorAxis(2, 7.31, 41.5, minorCX, false)
];
const yAxis = [
  mainAxis(0, -0.5, 10.5, ticksU, f1, 'Demand (U)', 47, true), minorAxis(0, -0.5, 10.5, minorU, true),
  mainAxis(1, -0.5, 10.5, ticksU, f1, 'Demand (U)', 48, true), minorAxis(1, -0.5, 10.5, minorU, true),
  mainAxis(2, 20.94, 104.07, ticksCY, f0, 'Sales (Y)', 42, true), minorAxis(2, 20.94, 104.07, minorCY, true)
];

const gridBase = {top: 9, height: 414, show: true, borderColor: '#5E5E5E', borderWidth: 1, backgroundColor: 'transparent', containLabel: false, outerBoundsMode: 'none'};
const option = {
  animation: false,
  backgroundColor: '#fff',
  textStyle: {fontFamily: FONT},
  grid: [
    Object.assign({left: 83, width: 267}, gridBase),
    Object.assign({left: 432, width: 270}, gridBase),
    Object.assign({left: 778, width: 272}, gridBase)
  ],
  xAxis: xAxis, yAxis: yAxis,
  graphic: [
    {type: 'text', left: 17, top: 12, style: {text: 'A', font: '26px "Liberation Serif"', fill: '#000'}},
    {type: 'text', left: 368, top: 12, style: {text: 'B', font: '26px "Liberation Serif"', fill: '#000'}},
    {type: 'text', left: 720, top: 12, style: {text: 'C', font: '26px "Liberation Serif"', fill: '#000'}}
  ],
  series: [
    {type: 'scatter', xAxisIndex: 0, yAxisIndex: 0, data: fuelRed, symbolSize: 5, silent: true, clip: false,
     itemStyle: {color: '#FF0000', opacity: 0.58}},
    {type: 'scatter', xAxisIndex: 0, yAxisIndex: 0, data: fuelOrange, symbolSize: 5, silent: true, clip: false,
     itemStyle: {color: '#FFA500', opacity: 0.7}},
    {type: 'scatter', xAxisIndex: 2, yAxisIndex: 2, data: pageViews, symbolSize: 5, silent: true, clip: false,
     itemStyle: {color: '#8A00EE', opacity: 0.62}},
    {type: 'scatter', xAxisIndex: 4, yAxisIndex: 4, data: priceSales, symbolSize: 5, silent: true,
     itemStyle: {color: '#0000FF', opacity: 0.55}},
    {type: 'line', xAxisIndex: 4, yAxisIndex: 4, data: fitCurve, showSymbol: false, smooth: 0.4, silent: true, z: 5,
     lineStyle: {color: '#000', width: 2}}
  ]
};
const chart = echarts.init(document.getElementById('c'), null, {renderer: 'canvas'});
chart.setOption(option);
</script>
</body></html>
